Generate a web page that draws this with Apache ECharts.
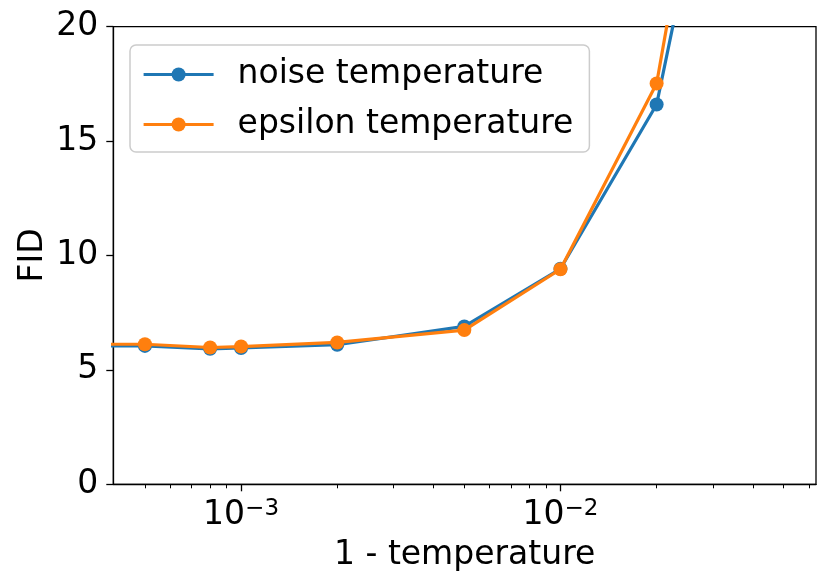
<!DOCTYPE html>
<html>
<head>
<meta charset="utf-8">
<script src="https://cdn.jsdelivr.net/npm/echarts@6/dist/echarts.min.js"></script>
<style>
  html, body { margin: 0; padding: 0; background: #fff; }
  #chart { width: 831px; height: 588px; }
</style>
</head>
<body>
<div id="chart"></div>
<script>
// ---- data ----
// 1 - temperature; the first value (0, temperature = 1) lies off the log axis
const oneMinusTemp = [0, 5e-4, 8e-4, 1e-3, 2e-3, 5e-3, 1e-2, 2e-2, 5e-2];
const noiseFID   = [6.10, 6.05, 5.92, 5.96, 6.10, 6.90, 9.42, 16.60, 43.4];
const epsilonFID = [6.15, 6.12, 5.98, 6.02, 6.20, 6.74, 9.40, 17.52, 48.9];
const seriesNames = ['noise temperature', 'epsilon temperature'];
const majorTicks = [1e-3, 1e-2];
const minorTicks = [5e-4, 6e-4, 7e-4, 8e-4, 9e-4, 2e-3, 3e-3, 4e-3, 5e-3, 6e-3, 7e-3, 8e-3, 9e-3, 2e-2, 3e-2, 4e-2, 5e-2, 6e-2];
const yTicks = [0, 5, 10, 15, 20];

const FONT = 'DejaVu Sans';
const FS = 33;
const xMin = Math.pow(10, -3.4), xMax = Math.pow(10, -1.2);
// matplotlib clips non-positive values on a log axis; mimic with a tiny value
const clipX = v => (v > 0 ? v : 1e-7);

function pairs(ys) {
  return oneMinusTemp.map((x, i) => [clipX(x), ys[i]]);
}

function isMajor(v) {
  return majorTicks.some(m => Math.abs(Math.log10(v) - Math.log10(m)) < 1e-6);
}

const chart = echarts.init(document.getElementById('chart'), null, { renderer: 'canvas' });
const lineCommon = {
  type: 'line',
  symbol: 'circle',
  symbolSize: 14,
  showSymbol: true,
  clip: true,
  animation: false,
  lineStyle: { width: 3.2 },
  z: 3
};
chart.setOption({
  animation: false,
  textStyle: { fontFamily: FONT },
  grid: { left: 113.3, right: 15, top: 26.7, bottom: 103.7, show: true, borderColor: '#000', borderWidth: 1.3, backgroundColor: 'transparent', containLabel: false },
  legend: {
    orient: 'vertical',
    left: 130, top: 45,
    padding: [13, 16, 11, 12],
    itemWidth: 70, itemHeight: 17.5, itemGap: 17,
    borderColor: '#cccccc', borderWidth: 1.5, borderRadius: 6,
    backgroundColor: 'rgba(255,255,255,0.8)',
    lineStyle: { width: 3.2 },
    textStyle: { fontFamily: FONT, fontSize: FS, color: '#000', padding: [0, 0, 0, 19] },
    data: seriesNames
  },
  xAxis: [
    {
      type: 'log', logBase: 10, min: xMin, max: xMax, gridIndex: 0, position: 'bottom',
      name: '1 - temperature', nameLocation: 'middle', nameGap: 55,
      nameTextStyle: { fontFamily: FONT, fontSize: FS, color: '#000' },
      axisLine: { show: true, lineStyle: { color: '#000', width: 1.3 } },
      axisTick: { show: false },
      axisLabel: {
        show: true, margin: 8, color: '#000',
        showMinLabel: false, showMaxLabel: false,
        formatter: v => isMajor(v) ? '{b|10}{s|\u2212' + Math.round(-Math.log10(v)) + '}' : '',
        rich: {
          b: { fontFamily: FONT, fontSize: FS, color: '#000', lineHeight: 40, verticalAlign: 'bottom' },
          s: { fontFamily: FONT, fontSize: 23, color: '#000', lineHeight: 40, verticalAlign: 'bottom', padding: [0, 0, 12, 0] }
        }
      },
      splitLine: { show: false }, minorTick: { show: false }
    },
    {
      type: 'log', logBase: 10, min: xMin, max: xMax, gridIndex: 0, position: 'bottom',
      axisLine: { show: false },
      axisTick: { show: true, inside: false, length: 4, lineStyle: { color: '#000', width: 1 }, customValues: minorTicks },
      axisLabel: { show: false },
      splitLine: { show: false }
    },
    {
      type: 'log', logBase: 10, min: xMin, max: xMax, gridIndex: 0, position: 'bottom',
      axisLine: { show: false },
      axisTick: { show: true, inside: false, length: 7, lineStyle: { color: '#000', width: 1.3 }, customValues: majorTicks },
      axisLabel: { show: false },
      splitLine: { show: false }
    }
  ],
  yAxis: {
    type: 'value', min: 0, max: 20, interval: 5,
    name: 'FID', nameLocation: 'middle', nameGap: 63, nameRotate: 90, nameMoveOverlap: false,
    nameTextStyle: { fontFamily: FONT, fontSize: FS, color: '#000' },
    axisLine: { show: true, lineStyle: { color: '#000', width: 1.3 } },
    axisTick: { show: true, inside: false, length: 7, lineStyle: { color: '#000', width: 1.3 } },
    axisLabel: { margin: 15, fontFamily: FONT, fontSize: FS, color: '#000' },
    splitLine: { show: false }
  },
  series: [
    Object.assign({}, lineCommon, { name: seriesNames[0], color: '#1f77b4', data: pairs(noiseFID) }),
    Object.assign({}, lineCommon, { name: seriesNames[1], color: '#ff7f0e', data: pairs(epsilonFID), z: 4 })
  ]
});
</script>
</body>
</html>
